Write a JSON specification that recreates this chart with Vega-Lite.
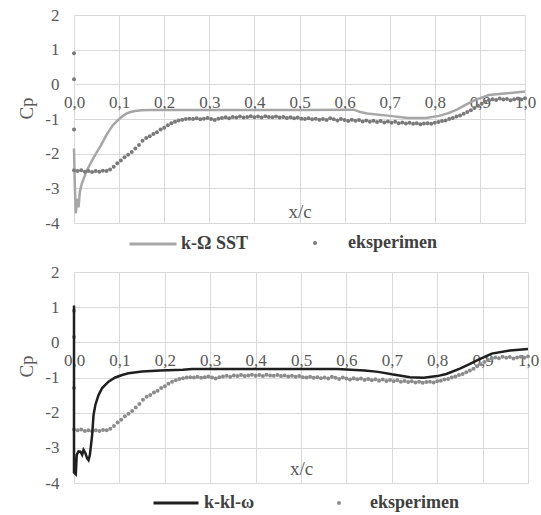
{
  "$schema": "https://vega.github.io/schema/vega-lite/v6.json",
  "padding": {"left": 17, "top": 6, "right": 5, "bottom": 0},
  "background": "white",
  "config": {
    "view": {"stroke": null},
    "font": "Liberation Serif",
    "axis": {"grid": true, "gridColor": "#d9d9d9", "gridWidth": 1, "domain": false, "ticks": false,
      "labelFont": "Liberation Serif", "labelFontSize": 17, "labelColor": "#595959", "labelOverlap": false,
      "titleFont": "Liberation Serif", "titleFontSize": 19, "titleColor": "#595959", "titleFontWeight": "normal"},
    "legend": {"labelFont": "Liberation Serif", "labelFontSize": 18, "labelColor": "#404040", "labelFontWeight": "bold", "padding": 0}
  },
  "datasets": {
    "exp": [
      {"x":0,"cp":0.9},{"x":0,"cp":0.15},{"x":0,"cp":-1.3},{"x":0,"cp":-2.48},
      {"x":0.008,"cp":-2.5},{"x":0.016,"cp":-2.48},{"x":0.024,"cp":-2.52},{"x":0.032,"cp":-2.5},{"x":0.04,"cp":-2.53},
      {"x":0.048,"cp":-2.5},{"x":0.056,"cp":-2.52},{"x":0.064,"cp":-2.49},{"x":0.072,"cp":-2.5},{"x":0.08,"cp":-2.46},
      {"x":0.088,"cp":-2.38},{"x":0.096,"cp":-2.28},{"x":0.104,"cp":-2.2},{"x":0.112,"cp":-2.1},{"x":0.12,"cp":-2.03},
      {"x":0.128,"cp":-1.95},{"x":0.136,"cp":-1.85},{"x":0.144,"cp":-1.75},{"x":0.152,"cp":-1.63},{"x":0.16,"cp":-1.55},
      {"x":0.168,"cp":-1.5},{"x":0.176,"cp":-1.43},{"x":0.184,"cp":-1.38},{"x":0.192,"cp":-1.3},{"x":0.2,"cp":-1.25},
      {"x":0.208,"cp":-1.18},{"x":0.216,"cp":-1.12},{"x":0.224,"cp":-1.08},{"x":0.232,"cp":-1.04},{"x":0.24,"cp":-1.02},
      {"x":0.248,"cp":-1.0},{"x":0.256,"cp":-0.99},{"x":0.264,"cp":-1.0},{"x":0.272,"cp":-0.98},{"x":0.28,"cp":-1.01},
      {"x":0.288,"cp":-0.99},{"x":0.296,"cp":-0.97},{"x":0.304,"cp":-1.0},{"x":0.312,"cp":-1.03},{"x":0.32,"cp":-0.99},
      {"x":0.328,"cp":-0.97},{"x":0.336,"cp":-0.95},{"x":0.344,"cp":-0.98},{"x":0.352,"cp":-0.94},{"x":0.36,"cp":-0.96},
      {"x":0.368,"cp":-0.93},{"x":0.376,"cp":-0.96},{"x":0.384,"cp":-0.94},{"x":0.392,"cp":-0.92},{"x":0.4,"cp":-0.95},
      {"x":0.408,"cp":-0.93},{"x":0.416,"cp":-0.96},{"x":0.424,"cp":-0.92},{"x":0.432,"cp":-0.94},{"x":0.44,"cp":-0.95},
      {"x":0.448,"cp":-0.93},{"x":0.456,"cp":-0.96},{"x":0.464,"cp":-0.94},{"x":0.472,"cp":-0.97},{"x":0.48,"cp":-0.95},
      {"x":0.488,"cp":-0.98},{"x":0.496,"cp":-0.96},{"x":0.504,"cp":-0.99},{"x":0.512,"cp":-1.0},{"x":0.52,"cp":-0.98},
      {"x":0.528,"cp":-1.01},{"x":0.536,"cp":-0.99},{"x":0.544,"cp":-1.02},{"x":0.552,"cp":-1.0},{"x":0.56,"cp":-1.03},
      {"x":0.568,"cp":-0.98},{"x":0.576,"cp":-1.01},{"x":0.584,"cp":-1.04},{"x":0.592,"cp":-1.0},{"x":0.6,"cp":-1.03},
      {"x":0.608,"cp":-1.06},{"x":0.616,"cp":-1.02},{"x":0.624,"cp":-1.05},{"x":0.632,"cp":-1.03},{"x":0.64,"cp":-1.07},
      {"x":0.648,"cp":-1.04},{"x":0.656,"cp":-1.08},{"x":0.664,"cp":-1.05},{"x":0.672,"cp":-1.09},{"x":0.68,"cp":-1.06},
      {"x":0.688,"cp":-1.1},{"x":0.696,"cp":-1.07},{"x":0.704,"cp":-1.11},{"x":0.712,"cp":-1.08},{"x":0.72,"cp":-1.12},
      {"x":0.728,"cp":-1.1},{"x":0.736,"cp":-1.13},{"x":0.744,"cp":-1.11},{"x":0.752,"cp":-1.14},{"x":0.76,"cp":-1.12},
      {"x":0.768,"cp":-1.15},{"x":0.776,"cp":-1.13},{"x":0.784,"cp":-1.12},{"x":0.792,"cp":-1.14},{"x":0.8,"cp":-1.11},
      {"x":0.808,"cp":-1.09},{"x":0.816,"cp":-1.06},{"x":0.824,"cp":-1.04},{"x":0.832,"cp":-1.0},{"x":0.84,"cp":-0.97},
      {"x":0.848,"cp":-0.93},{"x":0.856,"cp":-0.9},{"x":0.864,"cp":-0.85},{"x":0.872,"cp":-0.8},{"x":0.88,"cp":-0.75},
      {"x":0.888,"cp":-0.68},{"x":0.896,"cp":-0.62},{"x":0.904,"cp":-0.56},{"x":0.912,"cp":-0.5},{"x":0.92,"cp":-0.46},
      {"x":0.928,"cp":-0.43},{"x":0.936,"cp":-0.45},{"x":0.944,"cp":-0.41},{"x":0.952,"cp":-0.44},{"x":0.96,"cp":-0.42},
      {"x":0.968,"cp":-0.46},{"x":0.976,"cp":-0.43},{"x":0.984,"cp":-0.41},{"x":0.992,"cp":-0.44},{"x":1.0,"cp":-0.4}
    ],
    "sst": [
      {"k":1,"x":0,"cp":-1.85},{"k":2,"x":0.002,"cp":-3.0},{"k":3,"x":0.004,"cp":-3.72},{"k":4,"x":0.007,"cp":-3.3},
      {"k":5,"x":0.01,"cp":-3.55},{"k":6,"x":0.013,"cp":-3.1},{"k":7,"x":0.017,"cp":-2.88},{"k":8,"x":0.022,"cp":-2.7},
      {"k":9,"x":0.028,"cp":-2.5},{"k":10,"x":0.035,"cp":-2.32},{"k":11,"x":0.043,"cp":-2.13},{"k":12,"x":0.05,"cp":-1.97},
      {"k":13,"x":0.058,"cp":-1.8},{"k":14,"x":0.065,"cp":-1.63},{"k":15,"x":0.072,"cp":-1.46},{"k":16,"x":0.08,"cp":-1.3},
      {"k":17,"x":0.087,"cp":-1.17},{"k":18,"x":0.095,"cp":-1.06},{"k":19,"x":0.102,"cp":-0.98},{"k":20,"x":0.11,"cp":-0.9},
      {"k":21,"x":0.117,"cp":-0.84},{"k":22,"x":0.125,"cp":-0.8},{"k":23,"x":0.135,"cp":-0.77},{"k":24,"x":0.15,"cp":-0.745},
      {"k":25,"x":0.17,"cp":-0.74},{"k":26,"x":0.3,"cp":-0.74},{"k":27,"x":0.5,"cp":-0.74},{"k":28,"x":0.62,"cp":-0.73},
      {"k":29,"x":0.635,"cp":-0.8},{"k":30,"x":0.65,"cp":-0.84},{"k":31,"x":0.7,"cp":-0.91},{"k":32,"x":0.74,"cp":-0.97},
      {"k":33,"x":0.78,"cp":-0.97},{"k":34,"x":0.81,"cp":-0.91},{"k":35,"x":0.83,"cp":-0.83},{"k":36,"x":0.85,"cp":-0.72},
      {"k":37,"x":0.87,"cp":-0.58},{"k":38,"x":0.89,"cp":-0.45},{"k":39,"x":0.92,"cp":-0.31},{"k":40,"x":0.96,"cp":-0.26},
      {"k":41,"x":1.0,"cp":-0.21}
    ],
    "kkl": [
      {"k":1,"x":0,"cp":1.05},{"k":2,"x":0,"cp":-3.7},{"k":3,"x":0.004,"cp":-3.75},{"k":4,"x":0.006,"cp":-3.2},
      {"k":5,"x":0.01,"cp":-3.1},{"k":6,"x":0.014,"cp":-3.11},{"k":7,"x":0.018,"cp":-3.2},{"k":8,"x":0.021,"cp":-3.06},
      {"k":9,"x":0.025,"cp":-3.15},{"k":10,"x":0.029,"cp":-3.3},{"k":11,"x":0.032,"cp":-3.35},{"k":12,"x":0.035,"cp":-3.2},
      {"k":13,"x":0.04,"cp":-2.63},{"k":14,"x":0.043,"cp":-2.07},{"k":15,"x":0.047,"cp":-1.78},{"k":16,"x":0.054,"cp":-1.5},
      {"k":17,"x":0.062,"cp":-1.3},{"k":18,"x":0.076,"cp":-1.12},{"k":19,"x":0.091,"cp":-1.0},{"k":20,"x":0.106,"cp":-0.93},
      {"k":21,"x":0.12,"cp":-0.88},{"k":22,"x":0.15,"cp":-0.83},{"k":23,"x":0.19,"cp":-0.8},{"k":24,"x":0.24,"cp":-0.78},
      {"k":25,"x":0.26,"cp":-0.76},{"k":26,"x":0.4,"cp":-0.76},{"k":27,"x":0.58,"cp":-0.76},{"k":28,"x":0.6,"cp":-0.77},
      {"k":29,"x":0.64,"cp":-0.8},{"k":30,"x":0.67,"cp":-0.84},{"k":31,"x":0.7,"cp":-0.91},{"k":32,"x":0.74,"cp":-0.99},
      {"k":33,"x":0.77,"cp":-1.01},{"k":34,"x":0.8,"cp":-0.96},{"k":35,"x":0.82,"cp":-0.9},{"k":36,"x":0.85,"cp":-0.75},
      {"k":37,"x":0.87,"cp":-0.63},{"k":38,"x":0.89,"cp":-0.5},{"k":39,"x":0.92,"cp":-0.32},{"k":40,"x":0.96,"cp":-0.23},
      {"k":41,"x":1.0,"cp":-0.19}
    ]
  },
  "spacing": 10,
  "resolve": {"scale": {"x": "independent", "y": "independent", "stroke": "independent", "fill": "independent"}},
  "vconcat": [
    {
      "width": 451, "height": 208,
      "layer": [
        {
          "data": {"name": "sst"},
          "mark": {"type": "line", "strokeWidth": 2.5},
          "encoding": {
            "x": {"field": "x", "type": "quantitative", "scale": {"domain": [0, 1], "nice": false},
              "axis": {"values": [0,0.1,0.2,0.3,0.4,0.5,0.6,0.7,0.8,0.9,1], "tickCount": 20, "format": ".1f", "labelExpr": "replace(datum.label, '.', ',')",
                "offset": -138.67, "title": "x/c", "titleY": 127, "titleBaseline": "middle", "labelPadding": 10, "labelFlush": false, "labelOverlap": false}},
            "y": {"field": "cp", "type": "quantitative", "scale": {"domain": [-4, 2], "nice": false},
              "axis": {"values": [-4,-3,-2,-1,0,1,2], "tickCount": 20, "labelExpr": "'' + datum.value", "title": "Cp", "labelPadding": 15, "titlePadding": 8, "titleY": 93, "labelOverlap": false}},
            "order": {"field": "k"},
            "stroke": {"datum": "k-Ω SST", "scale": {"range": ["#a6a6a6"]},
              "legend": {"orient": "none", "legendX": 54, "legendY": 204, "symbolType": "stroke", "symbolSize": 2209, "symbolStrokeWidth": 3, "labelOffset": 3, "title": null}}
          }
        },
        {
          "data": {"name": "exp"},
          "mark": {"type": "circle", "size": 16, "opacity": 1},
          "encoding": {
            "x": {"field": "x", "type": "quantitative"},
            "y": {"field": "cp", "type": "quantitative"},
            "fill": {"datum": "eksperimen", "scale": {"range": ["#7a7a7a"]},
              "legend": {"orient": "none", "legendX": 232, "legendY": 219, "symbolType": "circle", "symbolSize": 16, "labelOffset": 24, "title": null}}
          }
        }
      ]
    },
    {
      "width": 454, "height": 211,
      "layer": [
        {
          "data": {"name": "exp"},
          "mark": {"type": "circle", "size": 16, "opacity": 1},
          "encoding": {
            "x": {"field": "x", "type": "quantitative", "scale": {"domain": [0, 1], "nice": false},
              "axis": {"values": [0,0.1,0.2,0.3,0.4,0.5,0.6,0.7,0.8,0.9,1], "tickCount": 20, "format": ".1f", "labelExpr": "replace(datum.label, '.', ',')",
                "offset": -140.67, "title": "x/c", "titleY": 126, "titleBaseline": "middle", "labelPadding": 10, "labelFlush": false, "labelOverlap": false}},
            "y": {"field": "cp", "type": "quantitative", "scale": {"domain": [-4, 2], "nice": false},
              "axis": {"values": [-4,-3,-2,-1,0,1,2], "tickCount": 20, "labelExpr": "'' + datum.value", "title": "Cp", "labelPadding": 15, "titlePadding": 8, "titleY": 94, "labelOverlap": false}},
            "fill": {"datum": "eksperimen", "scale": {"range": ["#8c8c8c"]},
              "legend": {"orient": "none", "legendX": 256, "legendY": 222, "symbolType": "circle", "symbolSize": 16, "labelOffset": 22, "title": null}}
          }
        },
        {
          "data": {"name": "kkl"},
          "mark": {"type": "line", "strokeWidth": 2.5},
          "encoding": {
            "x": {"field": "x", "type": "quantitative"},
            "y": {"field": "cp", "type": "quantitative"},
            "order": {"field": "k"},
            "stroke": {"datum": "k-kl-ω", "scale": {"range": ["#1f1f1f"]},
              "legend": {"orient": "none", "legendX": 78, "legendY": 207, "symbolType": "stroke", "symbolSize": 2025, "symbolStrokeWidth": 3, "labelOffset": 4, "title": null}}
          }
        }
      ]
    }
  ]
}
